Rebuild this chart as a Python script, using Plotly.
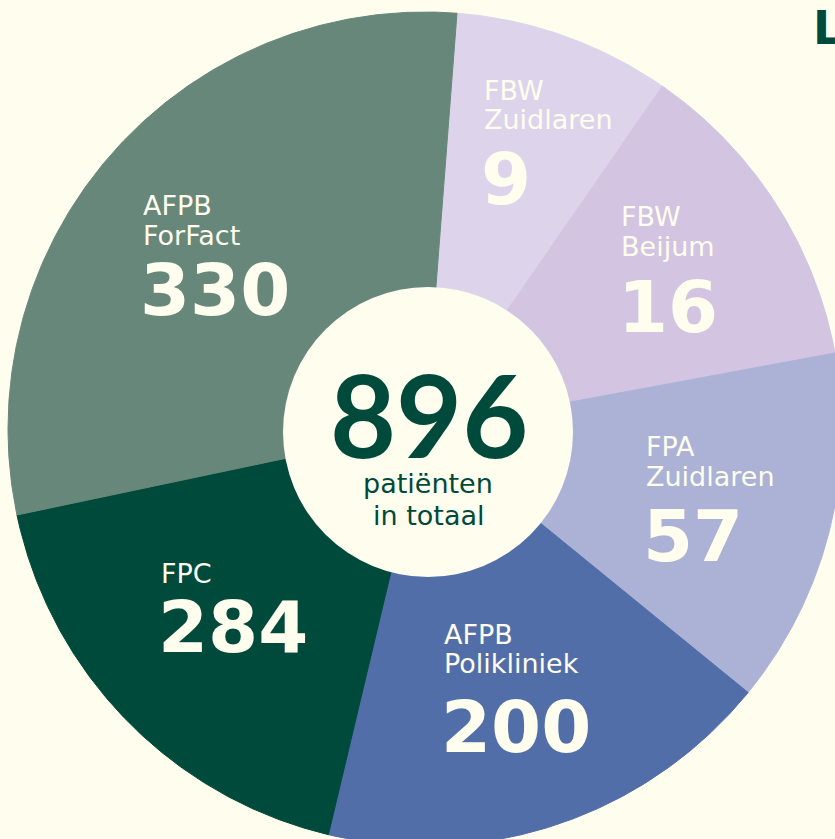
import numpy as np
import plotly.graph_objects as go

# ---- data ----
categories = ["FBW Zuidlaren", "FBW Beijum", "FPA Zuidlaren", "AFPB Polikliniek", "FPC", "AFPB ForFact"]
label_lines = [["FBW", "Zuidlaren"], ["FBW", "Beijum"], ["FPA", "Zuidlaren"],
               ["AFPB", "Polikliniek"], ["FPC"], ["AFPB", "ForFact"]]
patients = [9, 16, 57, 200, 284, 330]
# angular share of each drawn slice (degrees, as drawn in the picture)
slice_deg = [30.3, 44.8, 49.7, 64.2, 64.7, 106.3]
total_patients = 896
center_lines = ["patiënten", "in totaal"]

colors = ["#DDD4EB", "#D3C4E1", "#ABB2D6", "#516EA9", "#004A3B", "#67877B"]
BG = "#FEFDEE"
CREAM = "#FEFDEE"
DARK = "#004A3B"

# ---- layout geometry (pixels) ----
W, H = 835, 839
CX, CY, R = 425, 429, 417
HX, HY, HR = 428, 432, 145
START = 4.4  # degrees clockwise from 12 o'clock

# text positions: (left x, centre y of each label line, centre y of the number)
label_pos = [
    (482, [90, 119], 179),
    (619, [216, 246], 307),
    (644, [446, 476], 536),
    (442, [634, 663], 727),
    (159, [573], 627),
    (141, [205, 235], 290),
]

fig = go.Figure()

theta0 = START
for name, deg, col in zip(categories, slice_deg, colors):
    th = np.radians(np.linspace(theta0, theta0 + deg, 240))
    xs = np.concatenate([[CX], CX + R * np.sin(th), [CX]])
    ys = np.concatenate([[CY], CY - R * np.cos(th), [CY]])
    fig.add_trace(go.Scatter(x=xs, y=ys, mode="lines", fill="toself",
                             fillcolor=col, line=dict(color=col, width=1),
                             name=name, hoverinfo="name"))
    theta0 += deg

fig.add_shape(type="circle", xref="x", yref="y",
              x0=HX - HR, x1=HX + HR, y0=HY - HR, y1=HY + HR,
              fillcolor=BG, line=dict(width=0), layer="above")

LABEL_FONT = "DejaVu Sans"
for lines, val, (lx, lys, ny) in zip(label_lines, patients, label_pos):
    for txt, ly in zip(lines, lys):
        fig.add_annotation(x=lx, y=ly, text=txt, showarrow=False, xanchor="left",
                           yanchor="middle", xref="x", yref="y",
                           font=dict(family=LABEL_FONT, size=27, color=CREAM))
    fig.add_annotation(x=lx - 3, y=ny, text=f"<b>{val}</b>", showarrow=False,
                       xanchor="left", yanchor="middle", xref="x", yref="y",
                       font=dict(family="DejaVu Sans", size=72, color=CREAM))

fig.add_annotation(x=HX + 1, y=413, text=f"<b>{total_patients}</b>", showarrow=False,
                   xanchor="center", yanchor="middle", xref="x", yref="y",
                   font=dict(family="Lato", size=114, color=DARK))
for txt, ly in zip(center_lines, [483, 515]):
    fig.add_annotation(x=HX, y=ly, text=txt, showarrow=False, xanchor="center",
                       yanchor="middle", xref="x", yref="y",
                       font=dict(family=LABEL_FONT, size=27, color=DARK))

fig.add_annotation(x=811, y=28, text="<b>L</b>", showarrow=False, xanchor="left",
                   yanchor="middle", xref="x", yref="y",
                   font=dict(family="DejaVu Sans", size=46, color=DARK))

fig.update_layout(
    width=W, height=H, margin=dict(l=0, r=0, t=0, b=0),
    paper_bgcolor=BG, plot_bgcolor=BG, showlegend=False,
    xaxis=dict(range=[0, W], visible=False, fixedrange=True),
    yaxis=dict(range=[H, 0], visible=False, fixedrange=True),
)

fig.write_html("out.html")
